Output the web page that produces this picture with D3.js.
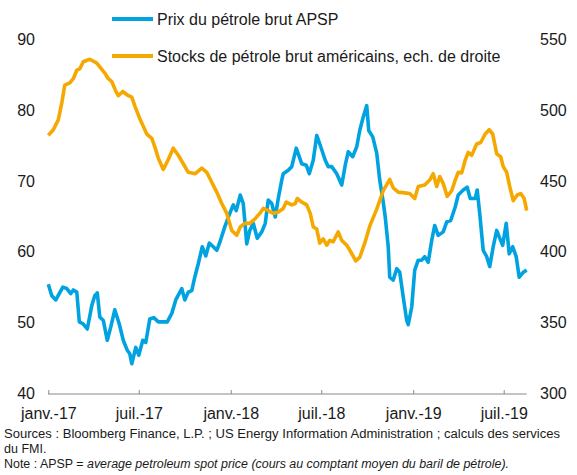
<!DOCTYPE html>
<html>
<head>
<meta charset="utf-8">
<script src="https://cdn.jsdelivr.net/npm/d3@7"></script>
<style>
  body { margin: 0; background: #fff; }
  text { font-family: "Liberation Sans", Arial, sans-serif; fill: #1a1a1a; }
</style>
</head>
<body>
<div class="chart"></div>
<script>
// Prix du pétrole brut APSP (dollars, axe de gauche)
const prixDates = [
  "2017-01-01","2017-01-08","2017-01-16","2017-01-30","2017-02-07","2017-02-15","2017-02-20","2017-02-27",
  "2017-03-04","2017-03-12","2017-03-20","2017-03-29","2017-04-04","2017-04-09","2017-04-14","2017-04-21",
  "2017-04-29","2017-05-06","2017-05-14","2017-05-23","2017-05-31","2017-06-08","2017-06-13","2017-06-17",
  "2017-06-25","2017-07-01","2017-07-09","2017-07-15","2017-07-23","2017-07-31","2017-08-09","2017-08-19",
  "2017-08-27","2017-09-05","2017-09-13","2017-09-25","2017-10-01","2017-10-08","2017-10-15","2017-10-21",
  "2017-10-28","2017-11-05","2017-11-12","2017-11-19","2017-11-27","2017-12-04","2017-12-10","2017-12-20",
  "2017-12-30","2018-01-06","2018-01-12","2018-01-20","2018-01-26","2018-02-02","2018-02-08","2018-02-15",
  "2018-02-23","2018-03-04","2018-03-11","2018-03-17","2018-03-24","2018-03-31","2018-04-06","2018-04-13",
  "2018-04-16","2018-04-26","2018-05-03","2018-05-12","2018-05-18","2018-05-23","2018-06-01","2018-06-07",
  "2018-06-15","2018-06-22","2018-06-30","2018-07-09","2018-07-15","2018-07-22","2018-08-01","2018-08-11",
  "2018-08-18","2018-08-24","2018-09-02","2018-09-10","2018-09-16","2018-09-23","2018-09-30","2018-10-04",
  "2018-10-12","2018-10-20","2018-10-26","2018-11-02","2018-11-06","2018-11-12","2018-11-15","2018-11-22",
  "2018-11-29","2018-12-05","2018-12-12","2018-12-19","2018-12-22","2018-12-29","2019-01-04","2019-01-11",
  "2019-01-18","2019-01-24","2019-01-31","2019-02-07","2019-02-13","2019-02-20","2019-03-02","2019-03-09",
  "2019-03-17","2019-03-26","2019-04-01","2019-04-11","2019-04-19","2019-04-25","2019-05-05","2019-05-09",
  "2019-05-14","2019-05-21","2019-05-28","2019-06-03","2019-06-10","2019-06-17","2019-06-22","2019-06-29",
  "2019-07-06","2019-07-12","2019-07-19","2019-07-26","2019-08-01","2019-08-09","2019-08-16"
];
const prixValues = [
  55.4, 53.8, 53.2, 55.0, 54.8, 54.1, 54.6, 54.3,
  50.1, 49.8, 49.1, 52.4, 53.8, 54.2, 50.8, 50.3,
  47.5, 49.4, 51.8, 49.8, 47.5, 46.1, 45.6, 44.2,
  46.5, 45.4, 47.5, 47.2, 50.5, 50.7, 50.1, 50.1,
  50.1, 51.3, 53.2, 54.8, 53.2, 54.3, 54.5, 56.4,
  58.3, 60.7, 59.4, 61.2, 60.7, 60.2, 61.3, 63.5,
  65.4, 66.6, 65.8, 68.0, 66.8, 61.1, 63.0, 64.0,
  61.9, 62.8, 64.0, 67.3, 66.8, 64.9, 67.5, 70.1,
  71.0, 71.5, 72.0, 74.6, 73.4, 72.4, 72.2, 71.0,
  72.9, 76.4, 74.8, 72.9, 72.0, 72.0, 71.0, 69.4,
  72.2, 74.1, 73.4, 74.8, 77.1, 79.0, 80.6, 77.1,
  76.2, 73.9, 70.1, 67.0, 64.9, 60.7, 56.4, 56.0,
  57.6, 57.1, 53.6, 50.3, 49.7, 52.2, 57.4, 58.8,
  58.8, 59.3, 58.5, 61.6, 63.7, 62.3, 62.8, 64.2,
  64.4, 66.3, 68.0, 68.7, 69.1, 67.5, 67.5, 68.7,
  65.4, 60.2, 59.3, 57.9, 60.7, 63.0, 62.1, 60.9,
  64.0, 59.7, 60.7, 59.3, 56.4, 57.1, 57.4
];

// Stocks de pétrole brut américains (millions de barils, axe de droite)
const stockDates = [
  "2017-01-01","2017-01-11","2017-01-21","2017-01-28","2017-02-03","2017-02-13","2017-02-20","2017-02-27",
  "2017-03-05","2017-03-12","2017-03-25","2017-04-08","2017-04-18","2017-04-24","2017-05-01","2017-05-08",
  "2017-05-15","2017-05-21","2017-05-30","2017-06-08","2017-06-17","2017-06-24","2017-07-04","2017-07-17",
  "2017-07-27","2017-08-03","2017-08-09","2017-08-19","2017-08-29","2017-09-08","2017-09-18","2017-09-28",
  "2017-10-08","2017-10-22","2017-11-04","2017-11-14","2017-11-24","2017-12-04","2017-12-14","2017-12-24",
  "2018-01-03","2018-01-13","2018-01-20","2018-01-29","2018-02-08","2018-02-18","2018-02-28","2018-03-07",
  "2018-03-17","2018-03-27","2018-04-06","2018-04-16","2018-04-22","2018-05-03","2018-05-10","2018-05-14",
  "2018-05-23","2018-06-02","2018-06-09","2018-06-15","2018-06-22","2018-06-28","2018-07-05","2018-07-12",
  "2018-07-18","2018-07-25","2018-08-04","2018-08-11","2018-08-21","2018-08-31","2018-09-08","2018-09-16",
  "2018-09-26","2018-10-06","2018-10-20","2018-11-02","2018-11-15","2018-11-22","2018-12-02","2018-12-15",
  "2018-12-25","2019-01-04","2019-01-11","2019-01-24","2019-02-03","2019-02-10","2019-02-17","2019-02-23",
  "2019-03-02","2019-03-10","2019-03-19","2019-03-26","2019-04-01","2019-04-08","2019-04-15","2019-04-21",
  "2019-04-28","2019-05-08","2019-05-16","2019-05-25","2019-06-02","2019-06-09","2019-06-17","2019-06-25",
  "2019-06-30","2019-07-07","2019-07-13","2019-07-20","2019-07-28","2019-08-04","2019-08-11","2019-08-16"
];
const stockValues = [
  482, 486, 493, 505, 517.5, 519, 522, 528,
  529, 534, 535.7, 533, 528.6, 526, 522, 520,
  514, 510, 513, 510.5, 509, 502, 493, 483,
  480, 473, 466, 458, 465, 473, 468, 462,
  456, 455, 459, 456, 449, 442, 434, 427,
  415, 411.6, 417.5, 420, 420, 423, 427, 430.5,
  429, 427, 428, 430.5, 435, 433, 434, 437.5,
  435, 433, 427, 417.5, 416, 406, 409, 404.6,
  408, 407, 414, 408, 404.6, 398.7, 393.5, 396,
  406, 418, 430, 443, 451, 445, 442, 441.5,
  441, 437.5, 446, 447, 450.5, 455, 446, 453,
  448, 439, 443, 450.5, 456, 455.6, 464.6, 470,
  468, 476, 477, 483, 486, 483, 469, 467,
  460, 456, 446, 436, 440, 441, 437.5, 429
];

const leftTicks = [40, 50, 60, 70, 80, 90];
const rightTicks = [300, 350, 400, 450, 500, 550];
const xTickDates = ["2017-01-01", "2017-07-01", "2018-01-01", "2018-07-01", "2019-01-01", "2019-07-01"];
const xTickLabels = ["janv.-17", "juil.-17", "janv.-18", "juil.-18", "janv.-19", "juil.-19"];

const w = 577, h = 475;
const blue = "#00a3e0", orange = "#f5a800";
const parse = d3.timeParse("%Y-%m-%d");

let svg = d3.select(".chart")
  .append("svg")
  .attr("width", w)
  .attr("height", h);

svg.append("rect").attr("width", w).attr("height", h).attr("fill", "#fff");

let x = d3.scaleTime()
  .domain([parse("2017-01-01"), parse("2019-08-16")])
  .range([48.3, 526.7]);

let yLeft = d3.scaleLinear().domain([40, 90]).range([393.5, 39]);
let yRight = d3.scaleLinear().domain([300, 550]).range([393.5, 39]);

// axe du bas
let xAxis = d3.axisBottom(x)
  .tickValues(xTickDates.map(parse))
  .tickSize(-4)
  .tickFormat((d, i) => xTickLabels[i]);

let gx = svg.append("g")
  .attr("transform", "translate(0,394)")
  .call(xAxis);
gx.select(".domain").attr("stroke", "#8a8a8a").attr("d", "M48,0H526.7");
gx.selectAll(".tick line").attr("stroke", "#8a8a8a");
gx.selectAll(".tick text")
  .attr("y", 24.5)
  .attr("dy", null)
  .style("font-size", "16px")
  .attr("fill", "#1a1a1a");

// axes verticaux: libellés seulement
let gl = svg.append("g")
  .attr("transform", "translate(35,0)")
  .call(d3.axisLeft(yLeft).tickValues(leftTicks).tickSize(0).tickPadding(0));
gl.select(".domain").remove();
gl.selectAll(".tick text").style("font-size", "16px").attr("fill", "#1a1a1a").attr("dy", "0.33em");

let gr = svg.append("g")
  .attr("transform", "translate(540,0)")
  .call(d3.axisRight(yRight).tickValues(rightTicks).tickSize(0).tickPadding(0));
gr.select(".domain").remove();
gr.selectAll(".tick text").style("font-size", "16px").attr("fill", "#1a1a1a").attr("dy", "0.33em");

// séries
let prixLine = d3.line()
  .x((d, i) => x(parse(prixDates[i])))
  .y(d => yLeft(d));

let stockLine = d3.line()
  .x((d, i) => x(parse(stockDates[i])))
  .y(d => yRight(d));

svg.append("path")
  .attr("d", prixLine(prixValues))
  .attr("fill", "none")
  .attr("stroke", blue)
  .attr("stroke-width", 3.6)
  .attr("stroke-linejoin", "round");

svg.append("path")
  .attr("d", stockLine(stockValues))
  .attr("fill", "none")
  .attr("stroke", orange)
  .attr("stroke-width", 3.6)
  .attr("stroke-linejoin", "round");

// légende
let legend = [
  { label: "Prix du pétrole brut APSP", color: blue, y: 19 },
  { label: "Stocks de pétrole brut américains, ech. de droite", color: orange, y: 56 }
];
legend.forEach(l => {
  svg.append("line")
    .attr("x1", 112).attr("x2", 153)
    .attr("y1", l.y).attr("y2", l.y)
    .attr("stroke", l.color)
    .attr("stroke-width", 4);
  svg.append("text")
    .attr("x", 157)
    .attr("y", l.y + 6)
    .style("font-size", "16px")
    .text(l.label);
});

// notes
svg.append("text")
  .attr("x", 4).attr("y", 437.5)
  .attr("textLength", 556).attr("lengthAdjust", "spacingAndGlyphs")
  .style("font-size", "12.5px")
  .text("Sources : Bloomberg Finance, L.P. ; US Energy Information Administration ; calculs des services");

svg.append("text")
  .attr("x", 4).attr("y", 452.5)
  .style("font-size", "12.5px")
  .text("du FMI.");

let note = svg.append("text")
  .attr("x", 4).attr("y", 467.5)
  .attr("textLength", 505).attr("lengthAdjust", "spacingAndGlyphs")
  .style("font-size", "12.5px");
note.append("tspan").text("Note : APSP = ");
note.append("tspan").style("font-style", "italic")
  .text("average petroleum spot price (cours au comptant moyen du baril de pétrole).");
</script>
</body>
</html>
